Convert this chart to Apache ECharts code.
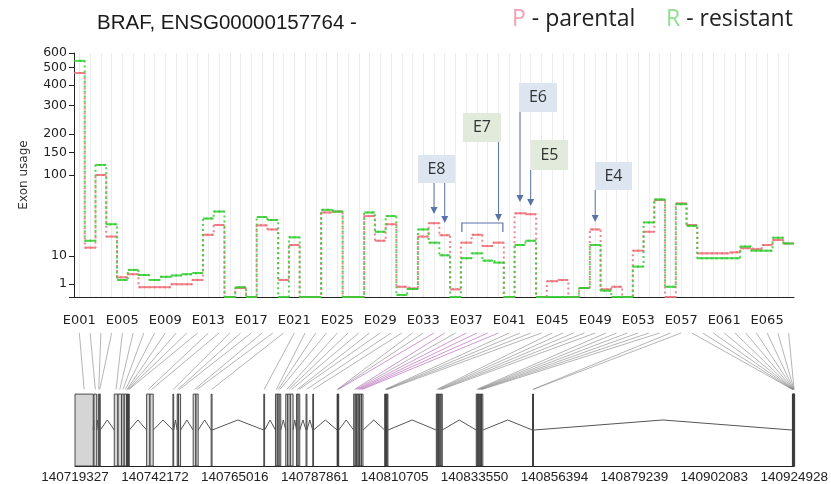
<!DOCTYPE html>
<html lang="en">
<head>
<meta charset="UTF-8">
<title>BRAF exon usage</title>
<script src="https://cdn.jsdelivr.net/npm/echarts@6/dist/echarts.min.js"></script>
<style>
  html, body { margin: 0; background: #fff; }
  #main { width: 831px; height: 484px; }
</style>
</head>
<body>
<div id="main"></div>
<script>
// exon bins E001 .. E067
var exons = [];
for (var n = 1; n <= 67; n++) exons.push('E' + String(n).padStart(3, '0'));

// exon usage, parental (P) and resistant (R)
var parental = [468, 14.1, 100, 21, 2.1, 2.8, 0.45, 0.45, 0.45, 0.95,
  0.95, 1.6, 22.3, 30.3, 0, 0.35, 0, 30, 26.5, 1.6,
  15.6, 0, 0, 43, 44, 0, 0, 39, 18.2, 31,
  0.5, 0.3, 21, 32, 22, 0.22, 17, 22.3, 15, 17,
  0, 42, 41, 0, 1.4, 1.6, 0, 0.35, 26.5, 0.22,
  0.5, 0, 12.5, 24.6, 58.5, 0, 54, 30.3, 11.2, 11.2,
  11.2, 11.7, 13.8, 13.3, 15.6, 18.7, 16.5];
var resistant = [545, 18.2, 121, 31, 1.6, 4.0, 2.6, 1.6, 2.2, 2.5,
  2.8, 3.1, 36.5, 44, 0, 0.45, 0, 38, 35, 0,
  20.5, 0, 0, 46, 44, 0, 0, 43, 24.6, 39,
  0.005, 0.25, 26.5, 17, 10.3, 0, 8.8, 11.2, 7.6, 6.7,
  0, 15.6, 18.2, 0, 0, 0, 0, 0.35, 15.6, 0.13,
  0, 0, 5.1, 32.7, 59.4, 0.5, 53, 29.5, 8.8, 8.8,
  8.8, 8.8, 14.7, 12.5, 12.5, 20.2, 16.5];

// genomic start / end of each bin
var exonStart = [140719327, 140724753, 140725980, 140726266, 140730549, 140731606, 140732662, 140733376, 140734090, 140734290,
  140734462, 140734661, 140739801, 140740744, 140747312, 140748540, 140748882, 140753108, 140753879, 140758248,
  140773297, 140776638, 140777152, 140777666, 140779580, 140780151, 140780865, 140782635, 140783092, 140785376,
  140787290, 140794257, 140794371, 140794514, 140798997, 140799426, 140799854, 140800282, 140800711, 140801196,
  140807850, 140808078, 140808307, 140808535, 140822613, 140822899, 140823270, 140823641, 140823984, 140834035,
  140834321, 140834606, 140834892, 140835206, 140835549, 140850112, 140850226, 140924414, 140924465, 140924516,
  140924568, 140924619, 140924671, 140924722, 140924774, 140924825, 140924877];
var exonEnd = [140724553, 140725524, 140726266, 140726552, 140731606, 140732662, 140733376, 140734090, 140734290, 140734462,
  140734661, 140734833, 140740744, 140741686, 140747540, 140748882, 140749510, 140753879, 140754536, 140758505,
  140773526, 140777152, 140777666, 140778152, 140780151, 140780865, 140781664, 140783092, 140783577, 140785633,
  140787518, 140794371, 140794514, 140794714, 140799426, 140799854, 140800282, 140800711, 140801196, 140801653,
  140808078, 140808307, 140808535, 140808792, 140822899, 140823270, 140823641, 140823984, 140824326, 140834321,
  140834606, 140834892, 140835206, 140835549, 140835920, 140850226, 140850369, 140924465, 140924516, 140924568,
  140924619, 140924671, 140924722, 140924774, 140924825, 140924877, 140924928];

// bins whose connector is highlighted
var sigBins = ['E034', 'E035', 'E037', 'E038', 'E039', 'E040'];

// tick labels
var usageTicks = [1, 10, 100, 150, 200, 300, 400, 500, 600];
var genomicTicks = [140719327, 140742172, 140765016, 140787861, 140810705,
  140833550, 140856394, 140879239, 140902083, 140924928];

// callouts over the usage plot
var callouts = ['E8', 'E7', 'E6', 'E5', 'E4'];
var calloutBins = [['E034', 'E035'], ['E040'], ['E042'], ['E043'], ['E049']];

// y scale of the usage plot (compressed, between log and linear)
var scaleVals = [0, 1, 10, 100, 150, 200, 300, 400, 500, 600];
var scaleUnits = [0, 13, 41, 122, 144.3, 163, 191.3, 212, 229.3, 244];
function g(v) { return Math.pow(v, 0.35); }
function toAxis(v) {
  for (var k = 0; k < scaleVals.length - 1; k++) {
    if (v <= scaleVals[k + 1] || k === scaleVals.length - 2) {
      var t = (g(v) - g(scaleVals[k])) / (g(scaleVals[k + 1]) - g(scaleVals[k]));
      return scaleUnits[k] + t * (scaleUnits[k + 1] - scaleUnits[k]);
    }
  }
}

var RED = 'rgba(238,110,120,0.85)';
var GREEN = 'rgba(50,205,50,0.85)';

function segments(color) {
  return function (params, api) {
    var c = api.coord([api.value(0), api.value(1)]);
    var w = api.size([1, 0])[0];
    return {
      type: 'line',
      shape: { x1: c[0] - w / 2, y1: c[1], x2: c[0] + w / 2, y2: c[1] },
      style: { stroke: color, lineWidth: 2 }
    };
  };
}

// introns: gaps between consecutive bins
var introns = [];
for (var i = 0; i < exonStart.length - 1; i++) {
  if (exonStart[i + 1] > exonEnd[i]) introns.push([exonEnd[i], exonStart[i + 1], 0.5]);
}

var FONT = 'DejaVu Sans';
var myChart = echarts.init(document.getElementById('main'));

myChart.setOption({
  animation: false,
  title: {
    text: 'BRAF, ENSG00000157764 -',
    left: 92, top: 8,
    textStyle: { fontFamily: 'Liberation Sans', fontSize: 20.5, fontWeight: 'normal', color: '#1a1a1a' }
  },
  grid: [
    { left: 74, right: 37, top: 53, bottom: 187 },
    { left: 75, right: 36, top: 333, bottom: 17 }
  ],
  xAxis: [
    {
      type: 'category', gridIndex: 0, data: exons, offset: 8,
      axisLine: { lineStyle: { color: '#222' } },
      axisTick: { interval: 0, alignWithLabel: true, length: 5, lineStyle: { color: '#222' } },
      axisLabel: { interval: 3, color: '#222', fontFamily: FONT, fontSize: 13, margin: 9 },
      splitLine: { show: true, interval: 0, alignWithLabel: true, lineStyle: { color: '#ececec' } }
    },
    {
      type: 'value', gridIndex: 1, min: 140719327, max: 140924928,
      axisLine: { lineStyle: { color: '#222' } },
      axisTick: { show: false },
      splitLine: { show: false },
      axisLabel: {
        customValues: genomicTicks, color: '#222', fontFamily: 'Liberation Sans', fontSize: 13.5, margin: 4,
        formatter: function (v) { return String(Math.round(v)); }
      }
    }
  ],
  yAxis: [
    {
      type: 'value', gridIndex: 0, min: 0, max: 244,
      name: 'Exon usage', nameLocation: 'middle', nameGap: 44, nameRotate: 90,
      nameTextStyle: { fontFamily: FONT, fontSize: 12, color: '#333' },
      axisLine: { show: true, lineStyle: { color: '#222' } },
      axisTick: { show: true, length: 5, customValues: [0].concat(usageTicks).map(toAxis), lineStyle: { color: '#222' } },
      axisLabel: {
        customValues: usageTicks.map(toAxis), color: '#222', fontFamily: FONT, fontSize: 12.5, margin: 7,
        formatter: function (v) {
          var best = usageTicks[0];
          usageTicks.forEach(function (t) { if (Math.abs(toAxis(t) - v) < Math.abs(toAxis(best) - v)) best = t; });
          return String(best);
        }
      },
      splitLine: { show: false }
    },
    { type: 'value', gridIndex: 1, min: 0, max: 1.85, show: false }
  ],
  series: [
    {
      type: 'line', xAxisIndex: 0, yAxisIndex: 0, step: 'middle', showSymbol: false, z: 2,
      data: parental.map(toAxis),
      lineStyle: { color: RED, width: 2, type: [2, 3] }
    },
    {
      type: 'custom', xAxisIndex: 0, yAxisIndex: 0, z: 2,
      data: parental.map(function (v, k) { return [k, toAxis(v)]; }),
      renderItem: segments(RED)
    },
    {
      type: 'line', xAxisIndex: 0, yAxisIndex: 0, step: 'middle', showSymbol: false, z: 3,
      data: resistant.map(toAxis),
      lineStyle: { color: GREEN, width: 2, type: [2, 3] }
    },
    {
      type: 'custom', xAxisIndex: 0, yAxisIndex: 0, z: 3,
      data: resistant.map(function (v, k) { return [k, toAxis(v)]; }),
      renderItem: segments(GREEN)
    },
    {
      // exon bins of the gene model
      type: 'custom', xAxisIndex: 1, yAxisIndex: 1,
      encode: { x: [0, 1], y: 2 },
      data: exonStart.map(function (s, k) { return [s, exonEnd[k], 0]; }),
      renderItem: function (params, api) {
        var a = api.coord([api.value(0), 0]);
        var b = api.coord([api.value(1), 1]);
        return {
          type: 'rect',
          shape: { x: a[0], y: b[1], width: Math.max(b[0] - a[0], 0.6), height: a[1] - b[1] },
          style: { fill: 'rgba(185,185,185,0.6)', stroke: '#3a3a3a', lineWidth: 0.9 }
        };
      }
    },
    {
      // introns as chevrons
      type: 'custom', xAxisIndex: 1, yAxisIndex: 1,
      encode: { x: [0, 1], y: 2 },
      data: introns,
      renderItem: function (params, api) {
        var a = api.coord([api.value(0), 0.5]);
        var m = api.coord([(api.value(0) + api.value(1)) / 2, 0.64]);
        var b = api.coord([api.value(1), 0.5]);
        return {
          type: 'polyline',
          shape: { points: [a, m, b] },
          style: { stroke: '#555', lineWidth: 1, fill: null }
        };
      }
    }
  ]
});

// connectors, callouts and the legend, placed through the chart's own axes
var gfx = [];
exons.forEach(function (name, k) {
  var mid = (exonStart[k] + exonEnd[k]) / 2;
  var topX = myChart.convertToPixel({ xAxisIndex: 0 }, name);
  var top = myChart.convertToPixel({ gridIndex: 1 }, [mid, 1.85]);
  var bot = myChart.convertToPixel({ gridIndex: 1 }, [mid, 1.065]);
  var sig = sigBins.indexOf(name) >= 0;
  gfx.push({
    type: 'line', silent: true, z: 1,
    shape: { x1: topX, y1: top[1], x2: bot[0], y2: bot[1] },
    style: { stroke: sig ? 'rgba(170,70,170,0.55)' : 'rgba(120,120,120,0.55)', lineWidth: 1 }
  });
});

var boxLayout = [
  { x: 418, y: 155, w: 37, h: 28, fill: '#dce5f0', arrowTop: 183, tips: [214, 223] },
  { x: 463, y: 113, w: 38, h: 29, fill: '#e1eadb', arrowTop: 142, tips: [221] },
  { x: 519, y: 83, w: 38, h: 29, fill: '#dce5f0', arrowTop: 112, tips: [202] },
  { x: 531, y: 140, w: 37, h: 30, fill: '#e1eadb', arrowTop: 170, tips: [206] },
  { x: 595, y: 162, w: 37, h: 28, fill: '#dce5f0', arrowTop: 190, tips: [222] }
];
var ARROW = '#5773a8';
callouts.forEach(function (label, k) {
  var L = boxLayout[k];
  gfx.push({ type: 'rect', z: 10, shape: { x: L.x, y: L.y, width: L.w, height: L.h }, style: { fill: L.fill } });
  gfx.push({
    type: 'text', z: 11, x: L.x + L.w / 2, y: L.y + L.h / 2,
    style: { text: label, fontFamily: 'Open Sans', fontSize: 16, fill: '#333', align: 'center', verticalAlign: 'middle' }
  });
  calloutBins[k].forEach(function (bin, j) {
    var ax = myChart.convertToPixel({ xAxisIndex: 0 }, bin);
    var tip = L.tips[j];
    gfx.push({ type: 'line', z: 10, shape: { x1: ax, y1: L.arrowTop, x2: ax, y2: tip - 5 }, style: { stroke: ARROW, lineWidth: 1 } });
    gfx.push({ type: 'polygon', z: 10, shape: { points: [[ax - 3.5, tip - 7], [ax + 3.5, tip - 7], [ax, tip]] }, style: { fill: ARROW } });
  });
});
// bracket over E037..E040
var half = 10.745 / 2;
var bx1 = myChart.convertToPixel({ xAxisIndex: 0 }, 'E037') - half + 1;
var bx2 = myChart.convertToPixel({ xAxisIndex: 0 }, 'E040') + half - 1;
gfx.push({
  type: 'polyline', z: 10,
  shape: { points: [[bx1, 232], [bx1, 223], [bx2, 223], [bx2, 232]] },
  style: { stroke: ARROW, lineWidth: 1.2, fill: null }
});

// legend
gfx.push({
  type: 'text', left: 512, top: 8,
  style: { text: '{p|P} - parental', fontFamily: 'Open Sans', fontSize: 23, fill: '#222',
    rich: { p: { fill: '#f4a0b3', fontFamily: 'Open Sans', fontSize: 23 } } }
});
gfx.push({
  type: 'text', left: 666, top: 8,
  style: { text: '{r|R} - resistant', fontFamily: 'Open Sans', fontSize: 23, fill: '#222',
    rich: { r: { fill: '#8fdf8f', fontFamily: 'Open Sans', fontSize: 23 } } }
});

myChart.setOption({ graphic: gfx });
</script>
</body>
</html>
